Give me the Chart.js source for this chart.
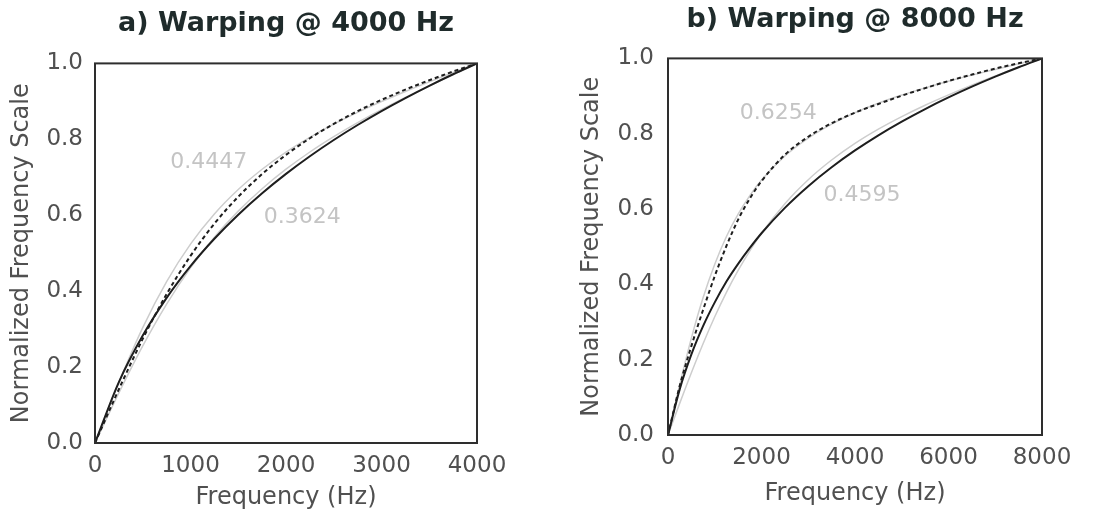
<!DOCTYPE html>
<html>
<head>
<meta charset="utf-8">
<script src="https://cdn.jsdelivr.net/npm/chart.js@4.4.1/dist/chart.umd.min.js"></script>
<style>
  html, body { margin: 0; padding: 0; background: #ffffff; }
  #wrap { position: relative; width: 1093px; height: 518px; overflow: hidden; background: #ffffff; }
  .panel { position: absolute; top: 0; height: 518px; }
  #panelA { left: 0; width: 540px; }
  #panelB { left: 555px; width: 538px; }
</style>
</head>
<body>
<div id="wrap">
  <div class="panel" id="panelA"><canvas id="chartA"></canvas></div>
  <div class="panel" id="panelB"><canvas id="chartB"></canvas></div>
</div>
<script>
// ---- Panel a: sampling at 8 kHz (Nyquist 4000 Hz) ----
const freqA = [0, 250, 500, 750, 1000, 1250, 1500, 1750, 2000, 2250, 2500, 2750, 3000, 3250, 3500, 3750, 4000];
const melA  = [0, 0.1604, 0.2830, 0.3824, 0.4660, 0.5380, 0.6014, 0.6579, 0.7089, 0.7554, 0.7982, 0.8377, 0.8744, 0.9087, 0.9410, 0.9714, 1];
const barkA = [0, 0.1416, 0.2744, 0.3922, 0.4928, 0.5778, 0.6488, 0.7085, 0.7591, 0.8028, 0.8405, 0.8743, 0.9040, 0.9309, 0.9555, 0.9786, 1];
const warpA_4447 = [0, 0.1597, 0.3040, 0.4251, 0.5238, 0.6032, 0.6677, 0.7211, 0.7664, 0.8053, 0.8399, 0.8711, 0.8995, 0.9261, 0.9514, 0.9759, 1];
const warpA_3624 = [0, 0.1321, 0.2559, 0.3661, 0.4612, 0.5421, 0.6109, 0.6699, 0.7213, 0.7666, 0.8071, 0.8440, 0.8781, 0.9102, 0.9409, 0.9707, 1];
const ticksA = [0, 1000, 2000, 3000, 4000];

// ---- Panel b: sampling at 16 kHz (Nyquist 8000 Hz) ----
const freqB = [0, 250, 500, 750, 1000, 1250, 1500, 1750, 2000, 2500, 3000, 3500, 4000, 4500, 5000, 5500, 6000, 6500, 7000, 7500, 8000];
const melB  = [0, 0.1212, 0.2139, 0.2890, 0.3521, 0.4075, 0.4544, 0.4967, 0.5357, 0.6031, 0.6607, 0.7110, 0.7556, 0.7958, 0.8322, 0.8656, 0.8963, 0.9249, 0.9516, 0.9765, 1];
const barkB = [0, 0.130, 0.236, 0.332, 0.422, 0.502, 0.572, 0.628, 0.674, 0.744, 0.792, 0.828, 0.856, 0.879, 0.901, 0.921, 0.940, 0.957, 0.973, 0.987, 1];
const warpB_6254 = [0, 0.1337, 0.2572, 0.3642, 0.4533, 0.5272, 0.5864, 0.6356, 0.6769, 0.7409, 0.7885, 0.8257, 0.8558, 0.8809, 0.9026, 0.9218, 0.9395, 0.9556, 0.9708, 0.9856, 1];
const warpB_4595 = [0, 0.0840, 0.1655, 0.2425, 0.3139, 0.3789, 0.4369, 0.4890, 0.5356, 0.6143, 0.6779, 0.7302, 0.7744, 0.8122, 0.8455, 0.8757, 0.9031, 0.9288, 0.9532, 0.9768, 1];
const ticksB = [0, 2000, 4000, 6000, 8000];

// Warping-factor captions, placed in data coordinates
const captionsA = [
  { text: '0.4447', f: 1190, v: 0.740 },
  { text: '0.3624', f: 2170, v: 0.595 }
];
const captionsB = [
  { text: '0.6254', f: 2360, v: 0.855 },
  { text: '0.4595', f: 4150, v: 0.637 }
];

const yTicks = [0, 0.2, 0.4, 0.6, 0.8, 1.0];

const toPoints = (xs, ys) => xs.map((x, i) => ({ x: x, y: ys[i] }));

// Box around the plotting area
const framePlugin = {
  id: 'frame',
  afterDatasetsDraw(chart) {
    const { ctx, chartArea: a } = chart;
    ctx.save();
    ctx.strokeStyle = '#2e2e2e';
    ctx.lineWidth = 2;
    ctx.strokeRect(a.left, a.top, a.right - a.left, a.bottom - a.top);
    ctx.restore();
  }
};

// Light grey warping-factor captions
const captionPlugin = {
  id: 'captions',
  afterDatasetsDraw(chart, args, opts) {
    const { ctx, scales } = chart;
    ctx.save();
    ctx.font = '22px "DejaVu Sans"';
    ctx.fillStyle = '#c4c4c4';
    ctx.textAlign = 'center';
    ctx.textBaseline = 'middle';
    (opts.items || []).forEach(c => {
      ctx.fillText(c.text, scales.x.getPixelForValue(c.f), scales.y.getPixelForValue(c.v));
    });
    ctx.restore();
  }
};

function buildChart(canvasId, cfg) {
  const grey = (data) => ({
    data: data, borderColor: '#cdcdcd', borderWidth: 1.5, pointRadius: 0,
    cubicInterpolationMode: 'monotone', fill: false, order: 3
  });
  return new Chart(document.getElementById(canvasId), {
    type: 'line',
    data: {
      datasets: [
        grey(toPoints(cfg.freq, cfg.warpHigh)),
        grey(toPoints(cfg.freq, cfg.warpLow)),
        {
          data: toPoints(cfg.freq, cfg.bark), borderColor: '#1e1e1e', borderWidth: 2,
          borderDash: [4, 3], pointRadius: 0, cubicInterpolationMode: 'monotone', fill: false, order: 1
        },
        {
          data: toPoints(cfg.freq, cfg.mel), borderColor: '#1e1e1e', borderWidth: 2,
          pointRadius: 0, cubicInterpolationMode: 'monotone', fill: false, order: 1
        }
      ]
    },
    options: {
      responsive: true,
      maintainAspectRatio: false,
      animation: false,
      events: [],
      layout: { padding: { left: 0, right: cfg.padRight, top: 0, bottom: 0 } },
      plugins: {
        legend: { display: false },
        tooltip: { enabled: false },
        title: {
          display: true,
          text: cfg.title,
          fullSize: false,
          color: '#1f2b2b',
          font: { family: 'DejaVu Sans', size: 27, weight: 'bold' },
          padding: { top: cfg.titleTop, bottom: cfg.titleBottom }
        },
        captions: { items: cfg.captions }
      },
      scales: {
        x: {
          type: 'linear',
          min: 0,
          max: cfg.xMax,
          afterFit: (s) => { s.height = cfg.xHeight; },
          afterBuildTicks: (s) => { s.ticks = cfg.xTicks.map(v => ({ value: v })); },
          grid: { display: false, drawTicks: false },
          border: { display: false },
          ticks: {
            color: '#505050',
            font: { family: 'DejaVu Sans', size: 23 },
            padding: cfg.xTickPad,
            maxRotation: 0,
            callback: (v) => String(v)
          },
          title: {
            display: true,
            text: 'Frequency (Hz)',
            color: '#505050',
            font: { family: 'DejaVu Sans', size: 24 },
            padding: { top: 0, bottom: cfg.xTitlePad }
          }
        },
        y: {
          type: 'linear',
          min: 0,
          max: 1,
          afterFit: (s) => { s.width = cfg.yWidth; },
          afterBuildTicks: (s) => { s.ticks = yTicks.map(v => ({ value: v })); },
          grid: { display: false, drawTicks: false },
          border: { display: false },
          ticks: {
            color: '#505050',
            font: { family: 'DejaVu Sans', size: 23 },
            padding: cfg.yTickPad,
            callback: (v) => Number(v).toFixed(1)
          },
          title: {
            display: true,
            text: 'Normalized Frequency Scale',
            color: '#505050',
            font: { family: 'DejaVu Sans', size: 24 },
            padding: { top: cfg.yTitlePad, bottom: 0 }
          }
        }
      }
    },
    plugins: [framePlugin, captionPlugin]
  });
}

buildChart('chartA', {
  title: 'a) Warping @ 4000 Hz',
  freq: freqA, mel: melA, bark: barkA, warpHigh: warpA_4447, warpLow: warpA_3624,
  xMax: 4000, xTicks: ticksA, captions: captionsA,
  padRight: 63, yWidth: 95, xHeight: 75,
  titleTop: 8, titleBottom: 23,
  xTickPad: 9, xTitlePad: 6, yTickPad: 12, yTitlePad: 7
});

buildChart('chartB', {
  title: 'b) Warping @ 8000 Hz',
  freq: freqB, mel: melB, bark: barkB, warpHigh: warpB_6254, warpLow: warpB_4595,
  xMax: 8000, xTicks: ticksB, captions: captionsB,
  padRight: 51, yWidth: 113, xHeight: 83,
  titleTop: 4, titleBottom: 22,
  xTickPad: 9, xTitlePad: 10, yTickPad: 14, yTitlePad: 22
});
</script>
</body>
</html>
